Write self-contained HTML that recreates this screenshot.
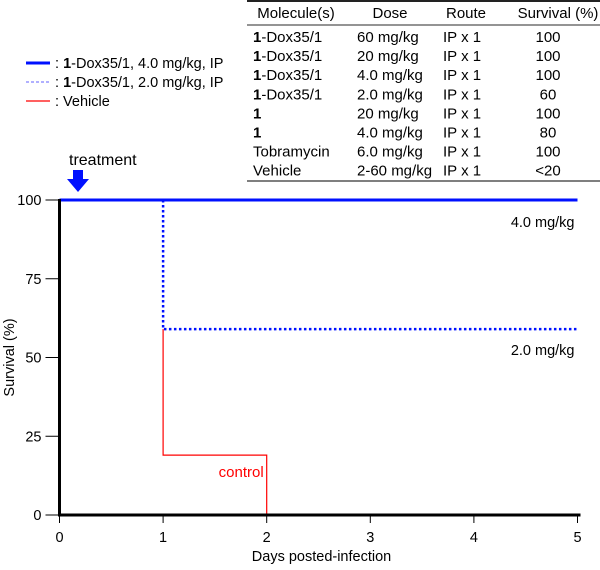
<!DOCTYPE html>
<html><head><meta charset="utf-8"><style>
body{margin:0;background:#fff}
svg text{font-family:"Liberation Sans",Arial,sans-serif;fill:#000}
</style></head><body>
<svg width="600" height="565" xmlns="http://www.w3.org/2000/svg">
<g>
<line x1="247" y1="1" x2="600" y2="1" stroke="#222" stroke-width="2"/>
<line x1="247" y1="25" x2="600" y2="25" stroke="#555" stroke-width="1.2"/>
<line x1="247" y1="181" x2="600" y2="181" stroke="#555" stroke-width="1.5"/>
<g id="tbl" font-size="15"></g>
</g>
<g font-size="14.5">
<line x1="26" y1="63" x2="50" y2="63" stroke="#0010ff" stroke-width="3"/>
<text x="55" y="68">: <tspan font-weight="bold">1</tspan>-Dox35/1, 4.0 mg/kg, IP</text>
<line x1="26" y1="82" x2="50" y2="82" stroke="#8080ff" stroke-width="1.2" stroke-dasharray="3,2"/>
<text x="55" y="87">: <tspan font-weight="bold">1</tspan>-Dox35/1, 2.0 mg/kg, IP</text>
<line x1="26" y1="101" x2="50" y2="101" stroke="#f00" stroke-width="1.2"/>
<text x="55" y="106">: Vehicle</text>
</g>
<text x="69" y="165" font-size="16">treatment</text>
<polygon points="73,170 83,170 83,179 89,179 78,192 67,179 73,179" fill="#0010ff"/>
<g id="plot" font-size="14.5"></g>
</svg>
<script>
const tableRows=[["1|-Dox35/1","60 mg/kg","IP x 1","100"],["1|-Dox35/1","20 mg/kg","IP x 1","100"],["1|-Dox35/1","4.0 mg/kg","IP x 1","100"],["1|-Dox35/1","2.0 mg/kg","IP x 1","60"],["1|","20 mg/kg","IP x 1","100"],["1|","4.0 mg/kg","IP x 1","80"],["|Tobramycin","6.0 mg/kg","IP x 1","100"],["|Vehicle","2-60 mg/kg","IP x 1","<20"]];
const headers=["Molecule(s)","Dose","Route","Survival (%)"];
const xTicks=[0,1,2,3,4,5];
const yTicks=[0,25,50,75,100];
const highDays=[0,5];const highSurv=[100,100];
const lowDays=[1,1,5];const lowSurv=[100,59,59];
const vehDays=[1,1,2,2];const vehSurv=[59,19,19,0];
const NS="http://www.w3.org/2000/svg";
function mk(t,a,p){const e=document.createElementNS(NS,t);for(const k in a)e.setAttribute(k,a[k]);p.appendChild(e);return e;}
const tbl=document.getElementById('tbl');
const hx=[296,390,466,558];
headers.forEach((h,i)=>{const t=mk('text',{x:hx[i],y:18,'text-anchor':'middle'},tbl);t.textContent=h;

});
tableRows.forEach((r,j)=>{const y=42+j*19.1;
const [b,rest]=r[0].split('|');const t=mk('text',{x:253,y:y},tbl);


if(b){const s=mk('tspan',{'font-weight':'bold'},t);s.textContent=b;}
const s2=mk('tspan',{},t);s2.textContent=rest;
const d=mk('text',{x:357,y:y},tbl);d.textContent=r[1];


const ro=mk('text',{x:443,y:y},tbl);ro.textContent=r[2];


const sv=mk('text',{x:548,y:y,'text-anchor':'middle'},tbl);sv.textContent=r[3];

});
const X=d=>59.5+d*103.6, Y=v=>515-v*3.15;
const p=document.getElementById('plot');
function path(ds,vs){return ds.map((d,i)=>(i?'L':'M')+X(d)+','+Y(vs[i])).join(' ');}
const veh=mk('path',{d:path(vehDays,vehSurv),fill:'none',stroke:'#f00','stroke-width':1.2},p);


const low=mk('path',{d:path(lowDays,lowSurv),fill:'none',stroke:'#0010ff','stroke-width':2.5,'stroke-dasharray':'2.5,2.5'},p);


const high=mk('path',{d:path(highDays,highSurv),fill:'none',stroke:'#0010ff','stroke-width':3},p);


const ax=mk('g',{},p);


mk('line',{x1:X(0),y1:Y(100)-1,x2:X(0),y2:Y(0)+1.5,stroke:'#000','stroke-width':3},ax);
mk('line',{x1:X(0)-1.5,y1:Y(0),x2:X(5)+3,y2:Y(0),stroke:'#000','stroke-width':3},ax);
xTicks.forEach(d=>{mk('line',{x1:X(d),y1:Y(0),x2:X(d),y2:Y(0)+8,stroke:'#000','stroke-width':1},ax);
const t=mk('text',{x:X(d),y:Y(0)+27,'text-anchor':'middle'},ax);t.textContent=d;

});
yTicks.forEach(v=>{mk('line',{x1:X(0)-14,y1:Y(v),x2:X(0),y2:Y(v),stroke:'#000','stroke-width':1},ax);
const t=mk('text',{x:X(0)-18,y:Y(v)+5,'text-anchor':'end'},ax);t.textContent=v;

});
const xt=mk('text',{x:X(2.5)+3,y:561,'text-anchor':'middle'},p);xt.textContent='Days posted-infection';


const yt=mk('text',{x:0,y:0,'text-anchor':'middle',transform:'translate(14,'+Y(50)+') rotate(-90)'},p);yt.textContent='Survival (%)';


const l1=mk('text',{x:X(5)-3,y:Y(100)+27,'text-anchor':'end'},p);l1.textContent='4.0 mg/kg';


const l2=mk('text',{x:X(5)-3,y:Y(59)+26,'text-anchor':'end'},p);l2.textContent='2.0 mg/kg';


const l3=mk('text',{x:X(2)-3,y:Y(19)+22,'text-anchor':'end','font-size':'15',fill:'#f00',style:'fill:#f00'},p);l3.textContent='control';


</script>
</body></html>
